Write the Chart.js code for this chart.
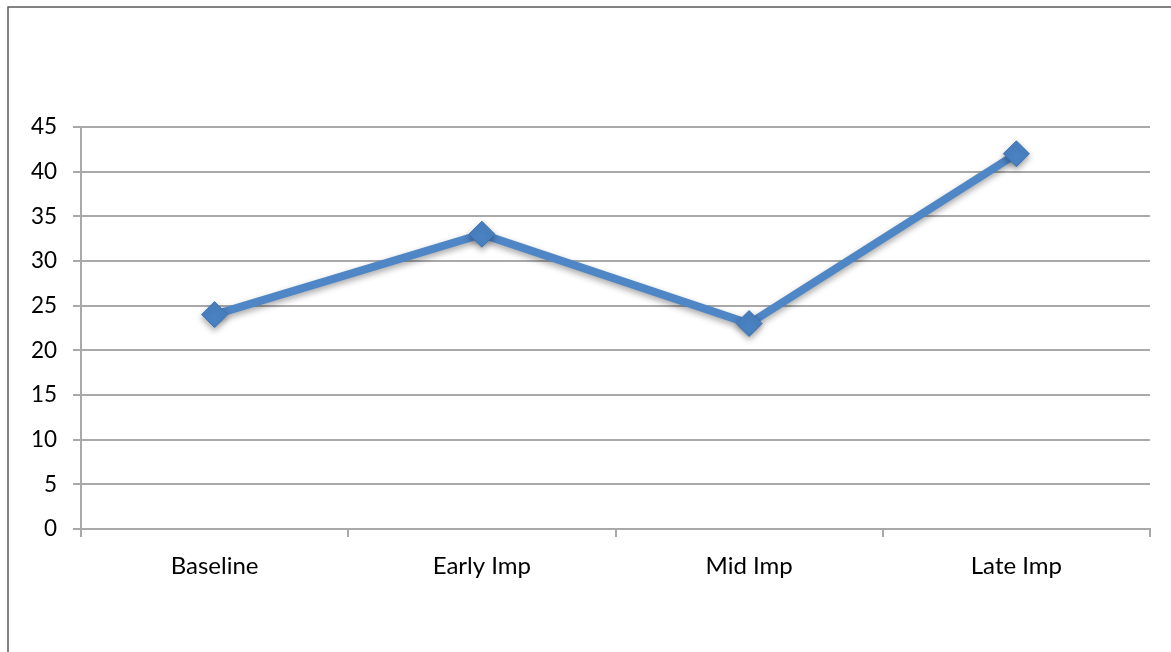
<!DOCTYPE html>
<html>
<head>
<meta charset="utf-8">
<script src="https://cdn.jsdelivr.net/npm/chart.js@4/dist/chart.umd.min.js"></script>
<style>
  html, body { margin: 0; padding: 0; background: #ffffff; }
  #wrap { width: 1171px; height: 652px; position: relative; }
</style>
</head>
<body>
<div id="wrap"><canvas id="chart" width="1171" height="652"></canvas></div>
<script>
// Phases of the intervention and the measured score at each phase
const categories = ['Baseline', 'Early Imp', 'Mid Imp', 'Late Imp'];
const scores = [24, 33, 23, 42];
const yTicks = [0, 5, 10, 15, 20, 25, 30, 35, 40, 45];

const frame = {
  id: 'frame',
  beforeDraw(chart) {
    const ctx = chart.ctx;
    ctx.save();
    ctx.fillStyle = '#ffffff';
    ctx.fillRect(0, 0, chart.width, chart.height);
    ctx.strokeStyle = '#595959';
    ctx.lineWidth = 1.5;
    ctx.strokeRect(8, 7, chart.width + 20, chart.height + 20);
    ctx.restore();
  }
};

const softShadow = {
  id: 'softShadow',
  beforeDatasetsDraw(chart) {
    const ctx = chart.ctx;
    ctx.save();
    ctx.shadowColor = 'rgba(0,0,0,0.35)';
    ctx.shadowBlur = 6;
    ctx.shadowOffsetX = 0;
    ctx.shadowOffsetY = 3;
  },
  afterDatasetsDraw(chart) {
    chart.ctx.restore();
  }
};

new Chart(document.getElementById('chart'), {
  type: 'line',
  data: {
    labels: categories,
    datasets: [{
      data: scores,
      borderColor: '#4f86c6',
      borderWidth: 8,
      pointStyle: 'rectRot',
      pointRadius: 13,
      pointHoverRadius: 13,
      pointBackgroundColor: '#4a82c3',
      pointBorderColor: '#3f74b3',
      pointBorderWidth: 1,
      tension: 0,
      fill: false
    }]
  },
  options: {
    responsive: false,
    animation: false,
    layout: { padding: { top: 127, right: 21, bottom: 0, left: 0 } },
    plugins: {
      legend: { display: false },
      tooltip: { enabled: false }
    },
    scales: {
      x: {
        type: 'category',
        offset: true,
        afterFit(scale) { scale.height = 123; },
        grid: {
          offset: true,
          drawOnChartArea: false,
          drawTicks: true,
          tickLength: 8,
          color: '#a9a9a9',
          lineWidth: 2
        },
        border: { display: true, color: '#a9a9a9', width: 2 },
        ticks: {
          color: '#000000',
          font: { family: 'Lato, "Open Sans", sans-serif', size: 24 },
          padding: 15,
          maxRotation: 0
        }
      },
      y: {
        min: 0,
        max: 45,
        afterFit(scale) { scale.width = 81; },
        afterBuildTicks(scale) { scale.ticks = yTicks.map(v => ({ value: v })); },
        grid: {
          color: '#a9a9a9',
          lineWidth: 2,
          tickLength: 8
        },
        border: { display: true, color: '#a9a9a9', width: 2 },
        ticks: {
          color: '#000000',
          font: { family: 'Lato, "Open Sans", sans-serif', size: 22.5 },
          padding: 16
        }
      }
    }
  },
  plugins: [frame, softShadow]
});
</script>
</body>
</html>
